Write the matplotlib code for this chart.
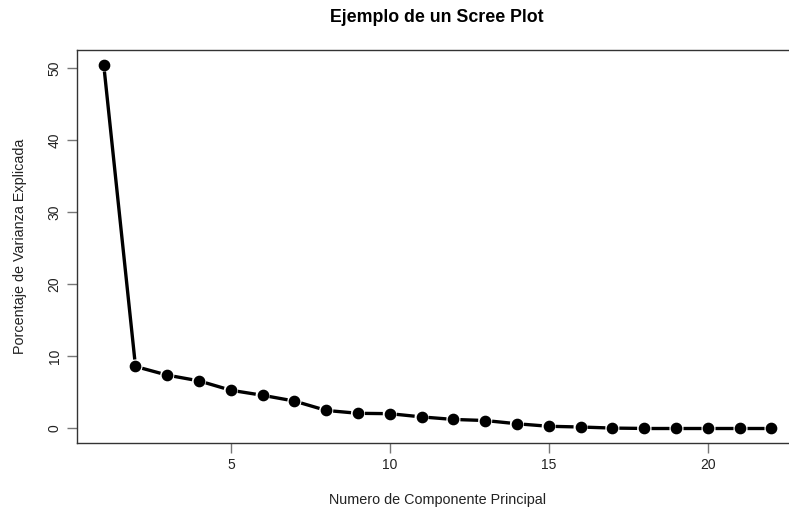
import matplotlib
matplotlib.use("Agg")
import numpy as np
import matplotlib.pyplot as plt

plt.rcParams["font.family"] = ["Liberation Sans", "DejaVu Sans"]

# porcentaje de varianza explicada por cada componente
componentes = list(range(1, 23))
varianza = [50.5, 8.6, 7.4, 6.6, 5.3, 4.6, 3.8, 2.5, 2.1, 2.05, 1.6,
            1.25, 1.1, 0.65, 0.3, 0.2, 0.05, 0.0, 0.0, 0.0, 0.0, 0.0]

fig = plt.figure(figsize=(7.89, 5.16), dpi=100)
ax = fig.add_axes([77 / 789, (516 - 443) / 516, 721 / 789, 393 / 516])

ax.set_xlim(0.16, 22.84)
ax.set_ylim(-2.02, 52.52)
ax.set_xticks([5, 10, 15, 20])
ax.set_yticks([0, 10, 20, 30, 40, 50])

# type="b": segmentos recortados alrededor de cada punto (en pixeles)
gap = 7.0
pts = ax.transData.transform(np.column_stack([componentes, varianza]))
inv = ax.transData.inverted()
for p0, p1 in zip(pts[:-1], pts[1:]):
    d = p1 - p0
    u = d / np.hypot(*d)
    a = inv.transform(p0 + u * gap)
    b = inv.transform(p1 - u * gap)
    ax.plot([a[0], b[0]], [a[1], b[1]], color="black", lw=2.4,
            solid_capstyle="butt")
ax.plot(componentes, varianza, "o", color="black", markersize=7.4, zorder=3)

for s in ax.spines.values():
    s.set_color("#333333")
    s.set_linewidth(1.0)
ax.tick_params(direction="out", length=7, width=1.0, color="#777777",
               labelsize=10, labelcolor="#222222", pad=4)
for lbl in ax.get_yticklabels():
    lbl.set_rotation(90)
    lbl.set_va("center")

ax.set_xlabel("Numero de Componente Principal", fontsize=10.4,
              color="#222222", labelpad=15)
ax.set_ylabel("Porcentaje de Varianza Explicada", fontsize=10.4,
              color="#222222", labelpad=15)
fig.text(437 / 789, 1 - 17 / 516, "Ejemplo de un Scree Plot",
         fontsize=12.8, fontweight="bold", ha="center", va="center")

fig.savefig("out.png", dpi=100)
